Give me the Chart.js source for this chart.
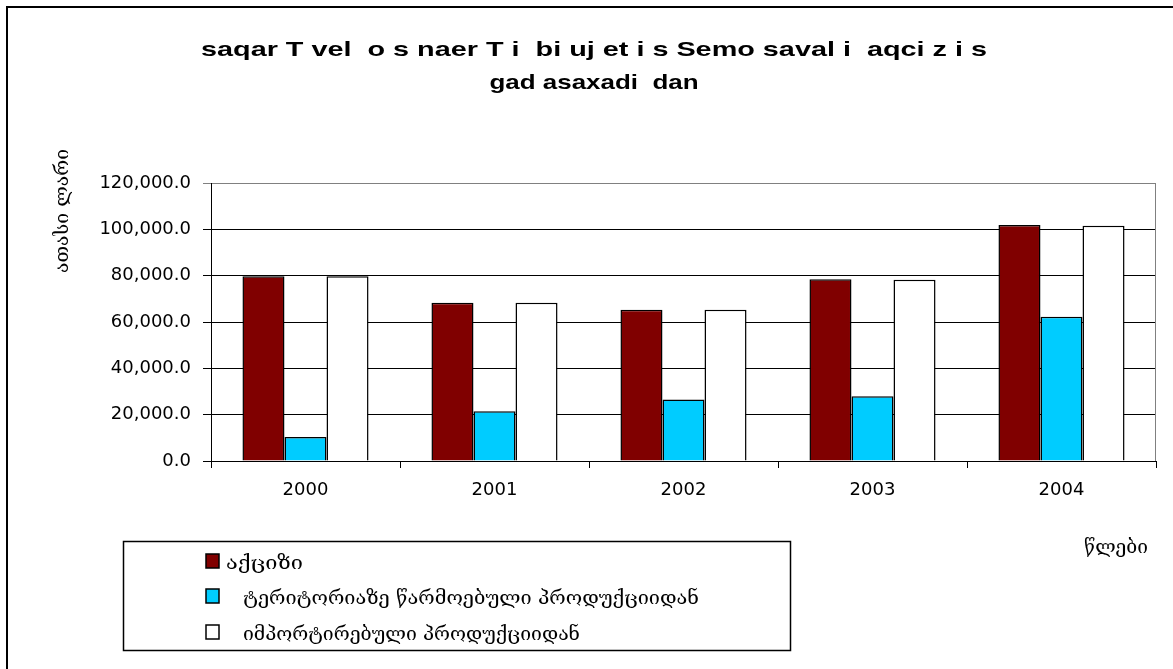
<!DOCTYPE html>
<html>
<head>
<meta charset="utf-8">
<title>აქციზის გადასახადი</title>
<script src="https://cdn.jsdelivr.net/npm/chart.js@4/dist/chart.umd.min.js"></script>
<style>
    html, body { margin: 0; padding: 0; background: #fff; }
    canvas { display: block; }
</style>
</head>
<body>
<canvas id="exciseChart" width="1173" height="669"></canvas>
<script>
// Chart data
const years = ['2000', '2001', '2002', '2003', '2004'];
const exciseTotal = [79800, 68300, 65300, 78500, 101900];
const fromDomestic = [10400, 21500, 26500, 28000, 62300];
const fromImported = [79800, 68300, 65300, 78200, 101600];
const seriesNames = [
    'აქციზი',
    'ტერიტორიაზე წარმოებული პროდუქციიდან',
    'იმპორტირებული პროდუქციიდან'
];
const yTicks = [0, 20000, 40000, 60000, 80000, 100000, 120000];

const titleLines = ['saqar T vel  o s naer T i  bi uj et i s Semo saval i  aqci z i s', 'gad asaxadi  dan'];
const yTitle = 'ათასი ლარი';
const xTitle = 'წლები';

const tickFont = { family: "'DejaVu Sans', sans-serif", size: 18 };
const geoFont = "19px 'DejaVu Serif', 'DejaVu Sans', serif";

// draw text squeezed/stretched to a given width
function fitText(ctx, text, x, y, width, align) {
    const w = ctx.measureText(text).width;
    ctx.save();
    ctx.translate(x, y);
    ctx.scale(width / w, 1);
    ctx.textAlign = align;
    ctx.fillText(text, 0, 0);
    ctx.restore();
}

// Frame, titles and legend box
const decorPlugin = {
    id: 'decor',
    afterDraw(chart) {
        const ctx = chart.ctx;
        const area = chart.chartArea;
        ctx.save();

        // outer frame
        ctx.strokeStyle = '#000';
        ctx.lineWidth = 2;
        ctx.beginPath();
        ctx.moveTo(7, 669);
        ctx.lineTo(7, 7);
        ctx.lineTo(1173, 7);
        ctx.stroke();

        // right side of plot area
        ctx.strokeStyle = '#808080';
        ctx.lineWidth = 1;
        ctx.beginPath();
        ctx.moveTo(Math.round(area.right) - 0.5, area.top);
        ctx.lineTo(Math.round(area.right) - 0.5, area.bottom);
        ctx.stroke();

        // title
        ctx.fillStyle = '#000';
        ctx.textBaseline = 'alphabetic';
        ctx.font = "bold 21px 'Liberation Sans', Arial, sans-serif";
        fitText(ctx, titleLines[0], 594, 56, 786, 'center');
        fitText(ctx, titleLines[1], 594, 89, 209, 'center');

        // axis titles
        ctx.font = geoFont;
        ctx.textBaseline = 'middle';
        ctx.save();
        ctx.translate(63, 211);
        ctx.rotate(-Math.PI / 2);
        fitText(ctx, yTitle, 0, 0, 124, 'center');
        ctx.restore();
        fitText(ctx, xTitle, 1116, 548, 64, 'center');

        // legend
        ctx.strokeStyle = '#000';
        ctx.lineWidth = 1.5;
        ctx.strokeRect(123.5, 541.5, 667, 109);
        const rowY = [561, 596, 632];
        const textW = [77, 456, 337];
        chart.data.datasets.forEach((ds, i) => {
            ctx.fillStyle = ds.backgroundColor;
            ctx.fillRect(206, rowY[i] - 7, 13, 14);
            ctx.lineWidth = 1.5;
            ctx.strokeRect(206, rowY[i] - 7, 13, 14);
            ctx.fillStyle = '#000';
            fitText(ctx, ds.label, i === 0 ? 226 : 243, rowY[i] + 3, textW[i], 'left');
        });

        ctx.restore();
    }
};

const ctx = document.getElementById('exciseChart').getContext('2d');
new Chart(ctx, {
    type: 'bar',
    data: {
        labels: years,
        datasets: [
            {
                label: seriesNames[0],
                data: exciseTotal,
                backgroundColor: '#800000',
                borderColor: '#000',
                borderWidth: 1.5
            },
            {
                label: seriesNames[1],
                data: fromDomestic,
                backgroundColor: '#00CCFF',
                borderColor: '#000',
                borderWidth: 1.5
            },
            {
                label: seriesNames[2],
                data: fromImported,
                backgroundColor: '#FFFFFF',
                borderColor: '#000',
                borderWidth: 1.5
            }
        ]
    },
    options: {
        responsive: false,
        animation: false,
        devicePixelRatio: 1,
        categoryPercentage: 0.667,
        barPercentage: 1.0,
        layout: {
            padding: { top: 183, right: 17, bottom: 0, left: 0 }
        },
        plugins: {
            legend: { display: false },
            title: { display: false },
            tooltip: { enabled: false }
        },
        scales: {
            x: {
                afterFit: (scale) => { scale.height = 208; },
                grid: {
                    drawOnChartArea: false,
                    drawTicks: true,
                    tickLength: 7,
                    color: '#000'
                },
                border: { color: '#000', width: 1 },
                ticks: {
                    color: '#000',
                    font: tickFont,
                    padding: 12,
                    maxRotation: 0
                }
            },
            y: {
                min: yTicks[0],
                max: yTicks[yTicks.length - 1],
                afterFit: (scale) => { scale.width = 211; },
                afterBuildTicks: (scale) => {
                    scale.ticks = yTicks.map(v => ({ value: v }));
                },
                grid: {
                    color: (c) => c.tick && c.tick.value === 120000 ? '#808080' : '#000',
                    tickLength: 8,
                    lineWidth: 1
                },
                border: { color: '#000', width: 1 },
                ticks: {
                    color: '#000',
                    font: tickFont,
                    padding: 12,
                    callback: (v) => Number(v).toLocaleString('en-US', {
                        minimumFractionDigits: 1,
                        maximumFractionDigits: 1
                    })
                }
            }
        }
    },
    plugins: [decorPlugin]
});
</script>
</body>
</html>
